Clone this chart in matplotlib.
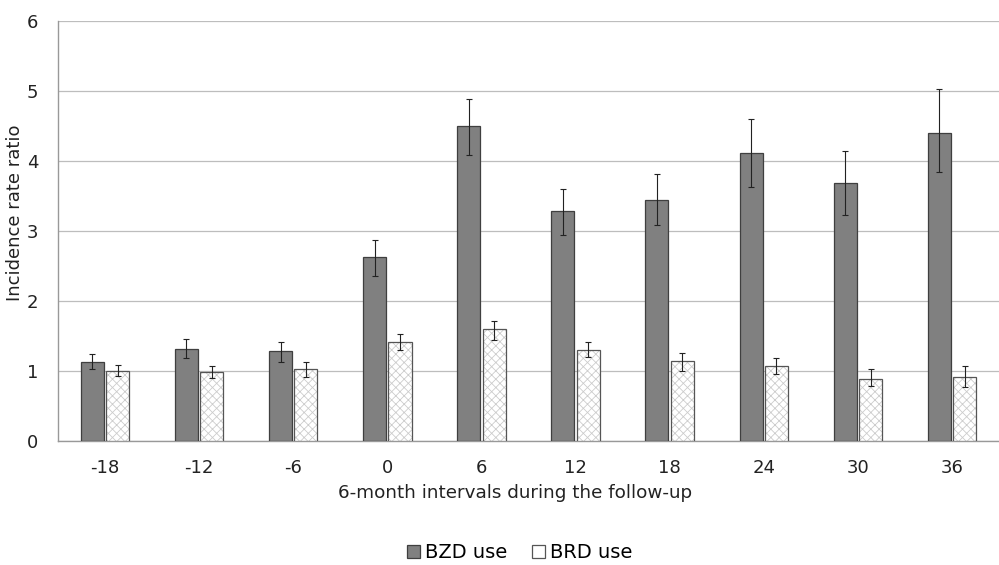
import matplotlib
matplotlib.use("Agg")
import matplotlib.pyplot as plt
import numpy as np

categories = ["-18", "-12", "-6", "0", "6", "12", "18", "24", "30", "36"]
bzd = [1.13, 1.31, 1.28, 2.63, 4.50, 3.29, 3.44, 4.11, 3.69, 4.40]
bzd_hi = [1.24, 1.46, 1.41, 2.87, 4.89, 3.60, 3.81, 4.60, 4.14, 5.03]
bzd_lo = [1.03, 1.19, 1.13, 2.36, 4.09, 2.94, 3.09, 3.63, 3.23, 3.84]
brd = [1.00, 0.99, 1.03, 1.41, 1.60, 1.30, 1.14, 1.07, 0.89, 0.91]
brd_hi = [1.08, 1.07, 1.13, 1.53, 1.71, 1.41, 1.26, 1.19, 1.03, 1.07]
brd_lo = [0.93, 0.90, 0.92, 1.30, 1.44, 1.20, 1.00, 0.96, 0.79, 0.77]

plt.rcParams['font.family'] = ['DejaVu Sans']
fig = plt.figure(figsize=(9.99, 5.65), dpi=100)
ax = fig.add_axes([0.058, 0.2195, 0.942, 0.7433])

x = np.arange(len(categories))
w = 0.245
off = 0.135

bzd_err = [np.array(bzd) - np.array(bzd_lo), np.array(bzd_hi) - np.array(bzd)]
brd_err = [np.array(brd) - np.array(brd_lo), np.array(brd_hi) - np.array(brd)]

ax.bar(x - off, bzd, w, color='#808080', edgecolor='#3f3f3f', linewidth=0.9,
       zorder=3, label='BZD use')
ax.errorbar(x - off, bzd, yerr=bzd_err, fmt='none', ecolor='#222222',
            elinewidth=0.8, capsize=2.5, capthick=0.8, zorder=4)

plt.rcParams['hatch.linewidth'] = 0.6
ax.bar(x + off, brd, w, color='white', edgecolor='#cccccc', hatch='xxxx',
       linewidth=0, zorder=3)
ax.bar(x + off, brd, w, color='none', edgecolor='#555555', linewidth=0.9,
       zorder=3.5, label='BRD use')
ax.errorbar(x + off, brd, yerr=brd_err, fmt='none', ecolor='#222222',
            elinewidth=0.8, capsize=2.5, capthick=0.8, zorder=4)

ax.set_xlim(-0.5, len(categories) - 0.5)
ax.set_ylim(0, 6)
ax.set_yticks(range(0, 7))
ax.yaxis.grid(True, color='#bdbdbd', linewidth=0.9, zorder=0)
ax.set_axisbelow(True)
ax.set_xticks(x)
ax.set_xticklabels(categories)
ax.tick_params(axis='both', length=0, labelsize=13, colors='#222222')
ax.tick_params(axis='x', pad=13)
ax.tick_params(axis='y', pad=14)

for s in ['top', 'right']:
    ax.spines[s].set_visible(False)
ax.spines['left'].set_color('#999999')
ax.spines['bottom'].set_color('#999999')
ax.spines['left'].set_linewidth(1.0)
ax.spines['bottom'].set_linewidth(1.0)

ax.set_ylabel('Incidence rate ratio', fontsize=13, color='#222222', labelpad=0)
ax.yaxis.set_label_coords(-0.0365, 0.543)
ax.set_xlabel('6-month intervals during the follow-up', fontsize=13.2,
              color='#222222', labelpad=5)
ax.xaxis.set_label_coords(0.486, -0.124)
ax.xaxis.label.set_va('center')

handles, labels = ax.get_legend_handles_labels()
leg = fig.legend(handles, labels, loc='center', bbox_to_anchor=(0.52, 0.022),
                 ncol=2, frameon=False, fontsize=14, handlelength=0.65,
                 handleheight=0.65, handletextpad=0.25, columnspacing=1.3)

fig.savefig('out.png', dpi=100)
